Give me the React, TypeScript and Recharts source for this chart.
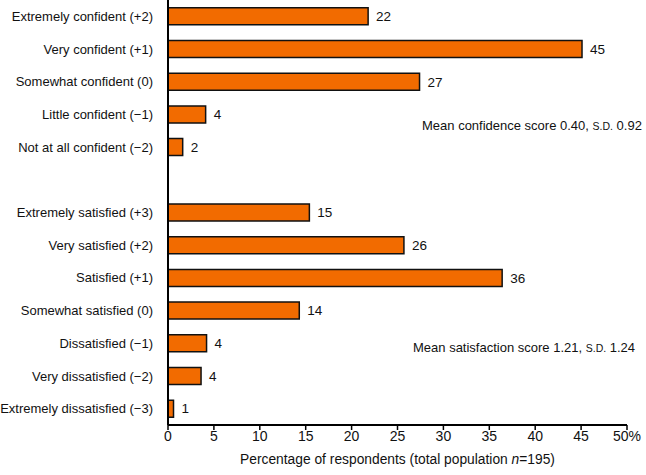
import React from "react";
import { BarChart, Bar, XAxis, YAxis, LabelList } from "recharts";

const confidenceLabels = [
  "Extremely confident (+2)",
  "Very confident (+1)",
  "Somewhat confident (0)",
  "Little confident (−1)",
  "Not at all confident (−2)",
];
const confidenceValues = [21.8, 45.1, 27.4, 4.1, 1.6];

const satisfactionLabels = [
  "Extremely satisfied (+3)",
  "Very satisfied (+2)",
  "Satisfied (+1)",
  "Somewhat satisfied (0)",
  "Dissatisfied (−1)",
  "Very dissatisfied (−2)",
  "Extremely dissatisfied (−3)",
];
const satisfactionValues = [15.4, 25.7, 36.4, 14.3, 4.2, 3.6, 0.6];

const xTicks = [0, 5, 10, 15, 20, 25, 30, 35, 40, 45, 50];

const data = [
  ...confidenceLabels.map((name, i) => ({ name, value: confidenceValues[i] })),
  { name: "", value: null },
  ...satisfactionLabels.map((name, i) => ({ name, value: satisfactionValues[i] })),
];

const FONT = "'Liberation Sans', Arial, Helvetica, sans-serif";

function AxisTitle(props: any) {
  const { viewBox } = props;
  const cx = viewBox.x + viewBox.width / 2;
  return (
    <text x={cx} y={464} textAnchor="middle" fontSize={13.8} fill="#111" fontFamily={FONT}>
      Percentage of respondents (total population <tspan fontStyle="italic">n</tspan>=195)
    </text>
  );
}

function CategoryTick(props: any) {
  const { x, y, payload } = props;
  return (
    <text x={x - 7} y={y} dy="0.35em" textAnchor="end" fontSize={13} fill="#111" fontFamily={FONT}>
      {payload.value}
    </text>
  );
}

function Note({ left, top, text, sd }: { left: number; top: number; text: string; sd: string }) {
  return (
    <div
      style={{
        position: "absolute",
        left,
        top,
        fontFamily: FONT,
        fontSize: 13,
        color: "#111",
        whiteSpace: "nowrap",
        lineHeight: "16px",
      }}
    >
      {text} <span style={{ fontSize: 10.5 }}>S.D.</span> {sd}
    </div>
  );
}

export default function App() {
  return (
    <div style={{ position: "absolute", left: 0, top: 0, width: 646, height: 475, background: "#fff" }}>
      <BarChart
        width={646}
        height={475}
        data={data}
        layout="vertical"
        margin={{ top: 0, right: 19, bottom: 0, left: 0 }}
        barCategoryGap="24%"
      >
        <XAxis
          type="number"
          domain={[0, 50]}
          ticks={xTicks}
          tickFormatter={(v: number) => (v === 50 ? "50%" : String(v))}
          height={50}
          axisLine={{ stroke: "#000", strokeWidth: 2 }}
          tickLine={{ stroke: "#000", strokeWidth: 1.5 }}
          tickSize={5}
          tickMargin={1}
          tick={{ fill: "#111", fontSize: 14, fontFamily: FONT }}
          label={<AxisTitle />}
        />
        <YAxis
          type="category"
          dataKey="name"
          width={168}
          interval={0}
          axisLine={{ stroke: "#000", strokeWidth: 2 }}
          tickLine={false}
          tick={<CategoryTick />}
        />
        <Bar dataKey="value" fill="#F26B00" stroke="#111" strokeWidth={1.5} isAnimationActive={false}>
          <LabelList
            dataKey="value"
            position="right"
            offset={8}
            fill="#111"
            fontSize={13.5}
            fontFamily={FONT}
            formatter={(v: any) => (v == null ? "" : String(Math.round(v)))}
          />
        </Bar>
      </BarChart>
      <Note left={422} top={118} text="Mean confidence score 0.40," sd="0.92" />
      <Note left={413} top={340} text="Mean satisfaction score 1.21," sd="1.24" />
    </div>
  );
}
